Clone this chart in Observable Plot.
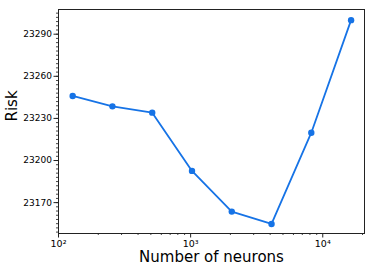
<!DOCTYPE html>
<html>
<head>
<meta charset="utf-8">
<script src="https://cdn.jsdelivr.net/npm/d3@7"></script>
<script src="https://cdn.jsdelivr.net/npm/@observablehq/plot@0.6"></script>
<style>
  html, body { margin: 0; padding: 0; background: #fff; }
  svg { display: block; }
</style>
</head>
<body>
<div id="chart"></div>
<script>
const neurons = [128, 256, 512, 1024, 2048, 4096, 8192, 16384];
const risk = [23246, 23238.6, 23234.1, 23192.6, 23163.6, 23154.8, 23219.8, 23300];
const yTicks = [23170, 23200, 23230, 23260, 23290];
const xTicks = [100, 1000, 10000];
const xTickLabels = ["10²", "10³", "10⁴"];
const xMinor = [200, 300, 400, 500, 600, 700, 800, 900, 2000, 3000, 4000, 5000, 6000, 7000, 8000, 9000, 20000];
const yMinor = d3.range(23149, 23308, 3);

const data = neurons.map((n, i) => ({n, r: risk[i]}));
const blue = "#1673e6";
const xLabelOf = d => xTickLabels[xTicks.findIndex(t => Math.abs(t - d) < 1e-6)];

const chart = Plot.plot({
  width: 374,
  height: 272,
  marginLeft: 58,
  marginRight: 10,
  marginTop: 9,
  marginBottom: 39,
  style: {fontFamily: "DejaVu Sans", background: "#fff", color: "#000"},
  x: {type: "log", domain: [100, 20700]},
  y: {domain: [23148, 23307.6]},
  marks: [
    Plot.axisY(yMinor, {tickSize: 2, tickFormat: () => "", label: null, stroke: "#444"}),
    Plot.axisY(yTicks, {tickSize: 4.5, tickPadding: 2, fontSize: 9, label: null, tickFormat: d => String(d), stroke: "#222"}),
    Plot.axisX(xMinor, {tickSize: 2, tickFormat: () => "", label: null, stroke: "#444"}),
    Plot.axisX(xTicks, {tickSize: 4.5, tickFormat: () => "", label: null, stroke: "#222"}),
    Plot.text(xTicks, {x: d => d, frameAnchor: "bottom", dy: 13, fontSize: 9.5, text: xLabelOf}),
    Plot.frame({stroke: "#222", strokeWidth: 1}),
    Plot.line(data, {x: "n", y: "r", stroke: blue, strokeWidth: 1.8}),
    Plot.dot(data, {x: "n", y: "r", fill: blue, r: 3.2}),
    Plot.text(["Risk"], {frameAnchor: "left", dx: -46, rotate: -90, fontSize: 15, text: d => d}),
    Plot.text(["Number of neurons"], {frameAnchor: "bottom", dy: 24, fontSize: 15, lineAnchor: "middle", text: d => d})
  ]
});
document.getElementById("chart").appendChild(chart);
</script>
</body>
</html>
